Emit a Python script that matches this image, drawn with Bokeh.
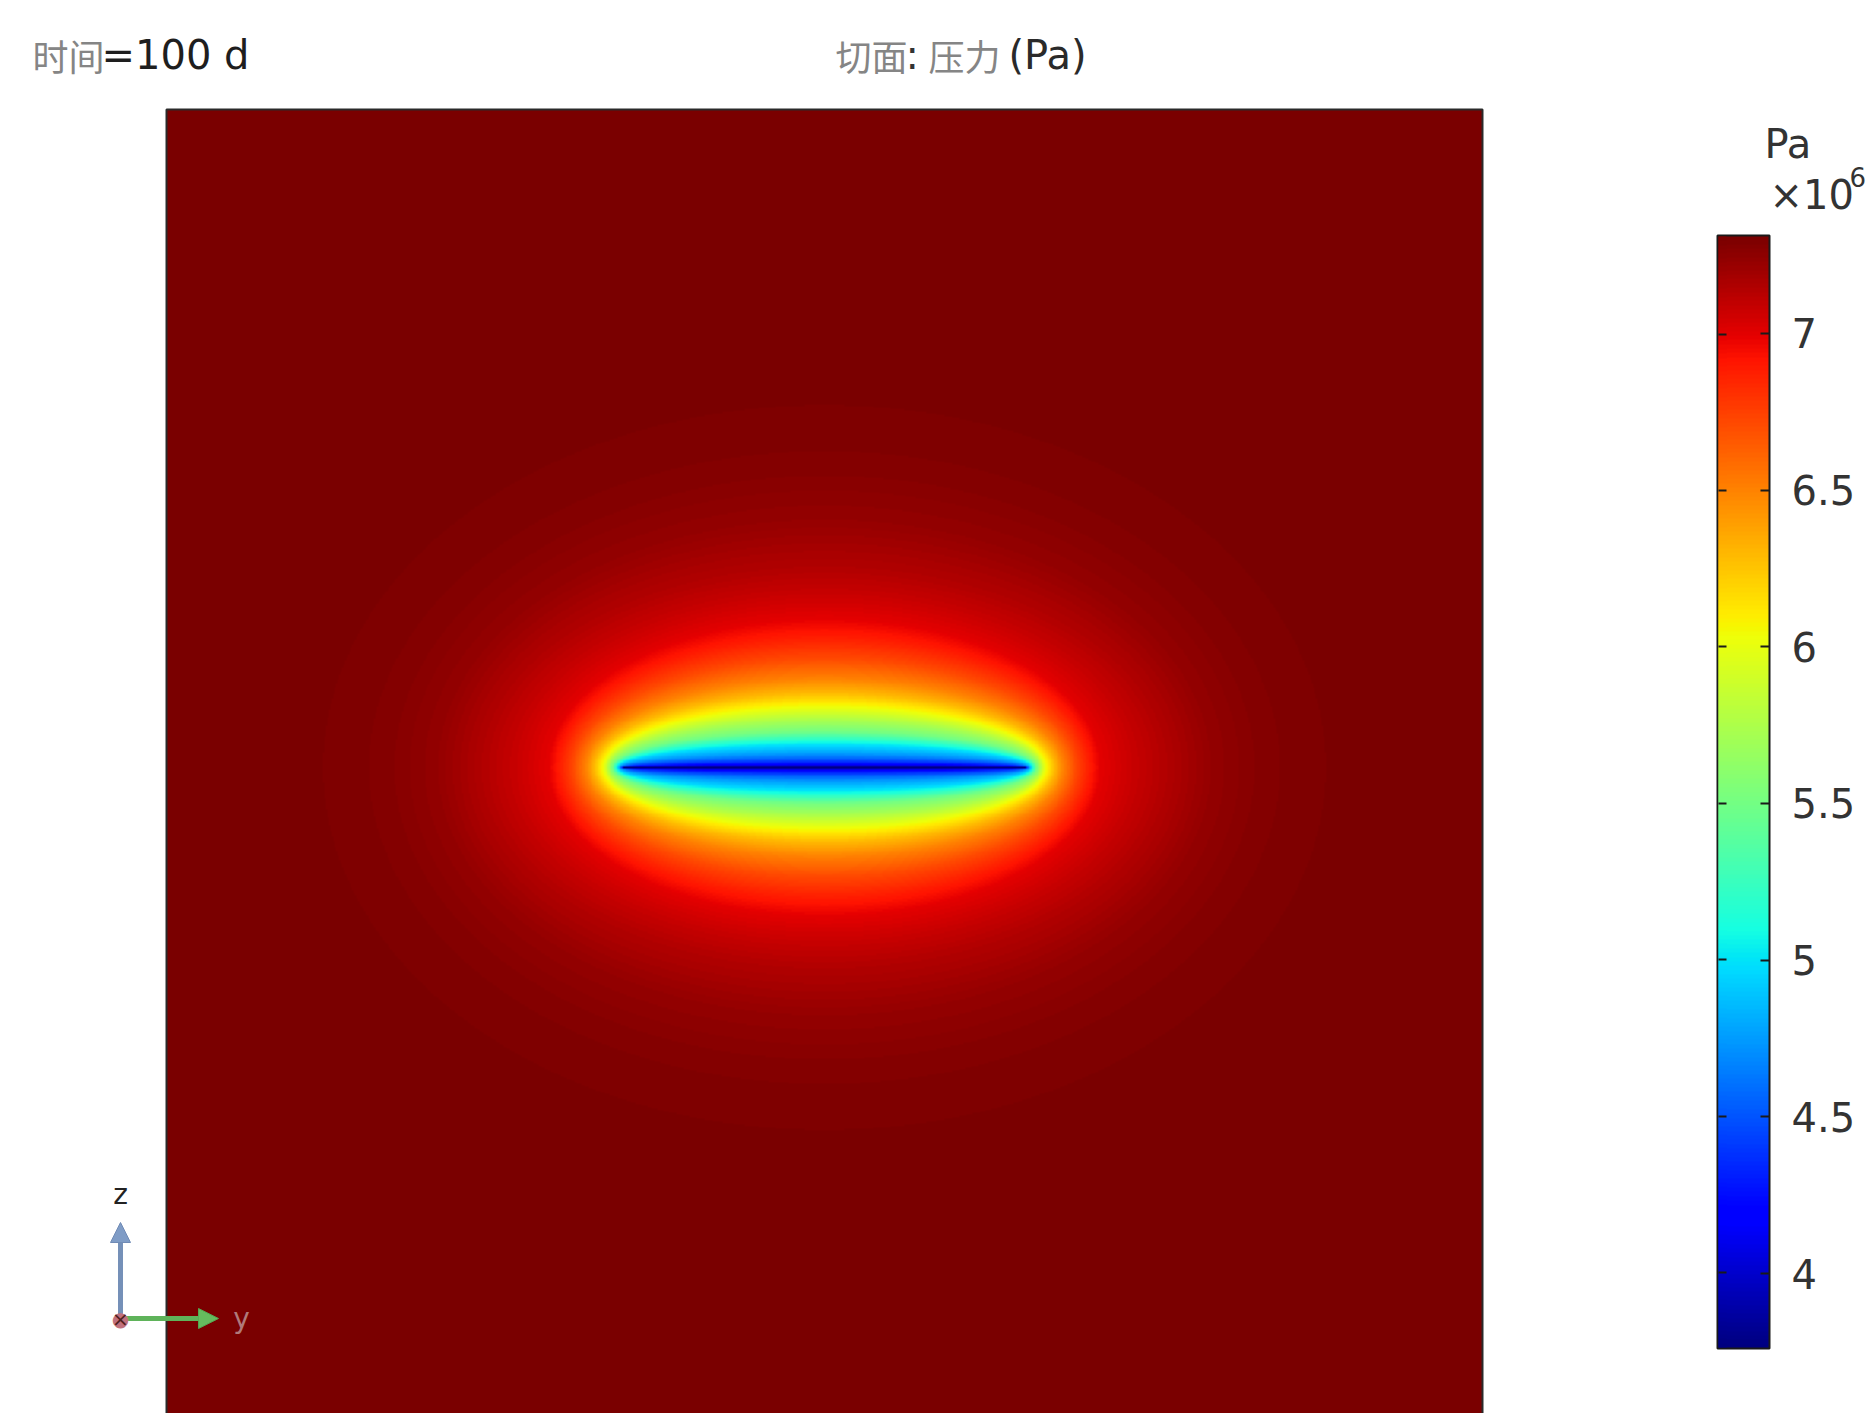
import numpy as np
from bokeh.plotting import figure
from bokeh.models import (LinearColorMapper, Label, Arrow, NormalHead, ColorBar,
                          FixedTicker, Range1d)
from bokeh.embed import file_html
from bokeh.resources import INLINE

# ---------------- data ----------------
time_text = "=100 d"
time_word = "时间"
slice_word = "切面"
quantity_word = "压力"
unit_text = "(Pa)"
cbar_unit = "Pa"
cbar_scale = "×10"
cbar_exp = "6"

p_min = 3.761      # x1e6 Pa, bottom of colour range
p_max = 7.312      # x1e6 Pa, top of colour range
cbar_ticks = [4, 4.5, 5, 5.5, 6, 6.5, 7]
cbar_tick_labels = ["4", "4.5", "5", "5.5", "6", "6.5", "7"]

domain_half = 100.0        # m, half width of the square slice
frac_half = 30.6           # m, half length of the fracture (centre of slice)

# pressure (x1e6 Pa) vs distance (m) normal to the fracture
prof_dist = [0.0, 0.3, 0.76, 1.37, 2.13, 3.5, 5.47, 7.3, 9.0, 11.4, 13.5, 16.7,
             19.8, 22.8, 26.6, 30.1, 37.8, 46.0, 56.1, 66.3, 106.0]
prof_p = [3.761, 4.05, 4.35, 4.55, 4.75, 5.0, 5.5, 5.75, 6.0, 6.3, 6.5, 6.72,
          6.88, 7.0, 7.08, 7.14, 7.23, 7.28, 7.30, 7.31, 7.312]
# how far each iso-line reaches beyond the fracture tip (m), keyed by its normal distance (m)
tip_dist = [0.0, 3.5, 9.0, 22.8, 30.1, 41.0, 53.2, 68.4, 106.0]
tip_reach = [0.0, 0.9, 2.9, 11.5, 21.1, 31.3, 43.9, 57.8, 94.0]

# ---------------- build field from the read profiles ----------------
N = 901
xs = np.linspace(-domain_half, domain_half, N)
X, Z = np.meshgrid(xs, xs)
ax_ = np.abs(X)
az_ = np.abs(Z)
lo = np.zeros_like(X)
hi = np.full_like(X, 150.0)
for _ in range(38):
    mid = 0.5 * (lo + hi)
    A = frac_half + np.interp(mid, tip_dist, tip_reach)
    f = (ax_ / A) ** 2 + (az_ / np.maximum(mid, 1e-9)) ** 2
    outside = f > 1.0
    lo = np.where(outside, mid, lo)
    hi = np.where(outside, hi, mid)
bdist = 0.5 * (lo + hi)
field = np.interp(bdist, prof_dist, prof_p).astype(np.float32)

# ---------------- jet palette ----------------
def jet(n=256):
    t = np.linspace(0, 1, n)
    r = np.interp(t, [0, 0.35, 0.66, 0.89, 1], [0, 0, 1, 1, 0.48])
    g = np.interp(t, [0, 0.125, 0.375, 0.64, 0.91, 1], [0, 0, 1, 1, 0, 0])
    b = np.interp(t, [0, 0.11, 0.34, 0.65, 1], [0.5, 1, 1, 0, 0])
    return ["#%02x%02x%02x" % (int(round(rr * 255)), int(round(gg * 255)), int(round(bb * 255)))
            for rr, gg, bb in zip(r, g, b)]

palette = jet(256)
mapper = LinearColorMapper(palette=palette, low=p_min, high=p_max)

# ---------------- figure (frame = whole canvas) ----------------
W, H = 1874, 1413
DOM_L, DOM_R, DOM_T = 166, 1482, 109      # page px of the slice domain
px_per_m = (DOM_R - DOM_L) / (2 * domain_half)
x0 = -domain_half - DOM_L / px_per_m
x1 = domain_half + (W - DOM_R) / px_per_m
y1 = domain_half + DOM_T / px_per_m
y0 = domain_half - (H - DOM_T) / px_per_m

p = figure(width=W, height=H, output_backend="svg", toolbar_location=None,
           x_axis_location=None, y_axis_location=None,
           x_range=Range1d(x0, x1), y_range=Range1d(y0, y1),
           min_border=0, min_border_left=0, min_border_right=0,
           min_border_top=0, min_border_bottom=0)
p.grid.visible = False
p.outline_line_color = None
p.background_fill_color = "white"
p.border_fill_color = "white"

p.image(image=[field], x=-domain_half, y=-domain_half, dw=2 * domain_half, dh=2 * domain_half,
        color_mapper=mapper)
p.quad(left=-domain_half, right=domain_half, bottom=-domain_half, top=domain_half,
       fill_color=None, line_color="#2a2a2a", line_width=2)

LAT = "DejaVu Sans"
CJK = "Noto Sans CJK SC"
BASE_FIX = 14  # bokeh alphabetic baseline sits lower than requested; compensate

def lab(text, px, py, font, size, color, align="left", baseline="alphabetic"):
    if baseline == "alphabetic":
        py = py - BASE_FIX
    p.add_layout(Label(x=px, y=H - py, x_units="screen", y_units="screen", text=text,
                       text_font=font, text_font_size=size, text_color=color,
                       text_align=align, text_baseline=baseline))

# titles (page px)
lab(time_word, 32, 68, CJK, "36px", "#858585")
lab(time_text, 101, 68, LAT, "40px", "#1e1e1e")
lab(slice_word, 835, 68, CJK, "36px", "#858585")
lab(":", 905, 68, LAT, "40px", "#333333")
lab(quantity_word, 928, 68, CJK, "36px", "#858585")
lab(unit_text, 1008, 68, LAT, "40px", "#2a2a2a")

# axis triad
ox, oy = 120, 1318
p.add_layout(Arrow(x_start=ox, y_start=H - oy, x_end=ox, y_end=H - 1222,
                   start_units="screen", end_units="screen",
                   line_color="#7590b8", line_width=5,
                   end=NormalHead(size=20, fill_color="#7f9cc6", line_color="#6f8ab5", line_width=1)))
p.add_layout(Arrow(x_start=ox, y_start=H - oy, x_end=218, y_end=H - oy,
                   start_units="screen", end_units="screen",
                   line_color="#5fb35a", line_width=5,
                   end=NormalHead(size=20, fill_color="#66bb5e", line_color="#55a550", line_width=1)))
lab("●", ox, oy, LAT, "20px", "#c0707c", align="center", baseline="middle")
lab("×", ox, oy, LAT, "20px", "#502020", align="center", baseline="middle")
lab("z", ox, 1194, LAT, "28px", "#222222", align="center", baseline="middle")
lab("y", 241, 1318, LAT, "28px", "#b07a7a", align="center", baseline="middle")

# ---------------- colour bar ----------------
CB_L, CB_R, CB_T, CB_B = 1717, 1769, 235, 1348
tick_kw = dict(ticker=FixedTicker(ticks=cbar_ticks), major_tick_in=9, major_tick_out=0,
               major_tick_line_color="#1a1a1a", major_tick_line_width=2,
               minor_tick_line_color=None, padding=0,
               border_line_color=None, background_fill_alpha=0)
cbar = ColorBar(color_mapper=mapper, location=(CB_L, H - CB_B),
                width=CB_R - CB_L, height=CB_B - CB_T,
                major_label_overrides={t: s for t, s in zip(cbar_ticks, cbar_tick_labels)},
                major_label_text_font=LAT, major_label_text_font_size="40px",
                major_label_text_color="#333333", label_standoff=22,
                bar_line_color="#1a1a1a", bar_line_width=2, **tick_kw)
p.add_layout(cbar)
# thin strip on the left edge of the bar, carrying the inner ticks on that side
cbar_left = ColorBar(color_mapper=mapper, location=(CB_L + 1, H - CB_B + 1),
                     width=8, height=CB_B - CB_T - 2,
                     major_label_text_font_size="0px", major_label_text_alpha=0,
                     label_standoff=0, bar_line_color=None, **tick_kw)
cbar_left.major_tick_in = 8
p.add_layout(cbar_left)

lab(cbar_unit, 1764, 157, LAT, "40px", "#333333")
lab(cbar_scale, 1769, 208, LAT, "40px", "#333333")
lab(cbar_exp, 1849, 190, LAT, "26px", "#333333")

open("out.html", "w").write(file_html(p, INLINE))
